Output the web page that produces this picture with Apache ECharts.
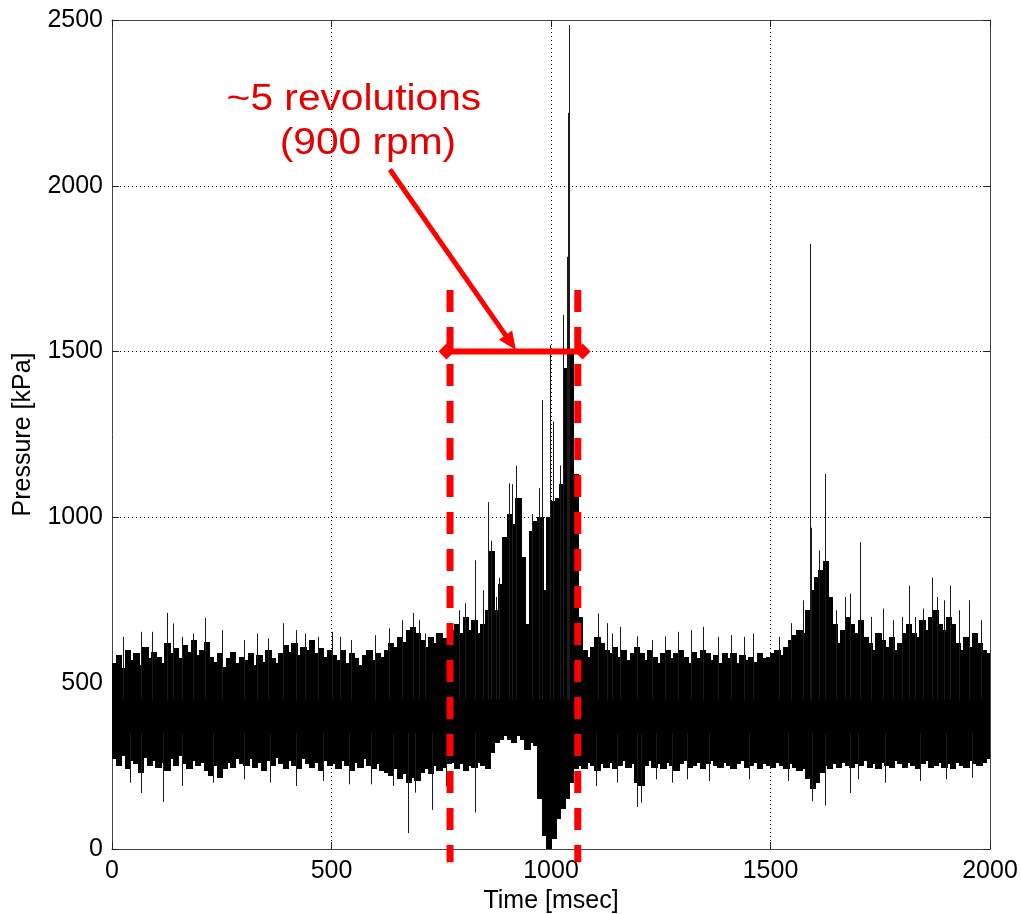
<!DOCTYPE html>
<html><head><meta charset="utf-8">
<script src="https://cdn.jsdelivr.net/npm/echarts@6/dist/echarts.min.js"></script>
<style>html,body{margin:0;padding:0;background:#fff}#c{width:1021px;height:914px}</style>
</head><body><div id="c"></div>
<script>
// ---- data ----
const binWidth = 10; // ms per envelope bin, bins start at 0,10,...,1990
const upper = [
560,585,545,600,570,590,555,610,575,595,
580,560,620,590,605,575,615,595,630,585,
600,625,580,565,590,550,575,595,560,580,
570,590,555,585,565,600,575,560,590,615,
595,620,585,610,600,630,590,605,580,600,
585,570,600,560,590,575,555,585,600,570,
590,580,600,620,610,640,625,660,670,650,
630,610,640,620,650,635,630,660,680,650,
700,660,690,650,680,720,900,720,800,940,
1010,980,1060,880,680,960,990,1000,780,1000,
1050,1060,1100,1450,1500,1130,700,600,580,610,
640,620,600,590,610,580,600,570,590,610,
590,570,600,580,560,590,600,575,590,600,
580,560,595,575,600,590,570,585,560,590,
575,590,560,585,570,580,565,590,575,580,
590,600,585,610,630,645,660,650,720,780,
820,840,870,760,680,620,660,700,680,650,
690,640,620,600,650,630,610,640,600,620,
650,680,650,640,690,660,700,720,680,660,
700,680,620,600,640,610,650,620,600,590
];
const lower = [
270,250,280,240,265,255,230,275,250,265,
245,260,235,270,250,280,255,240,265,250,
260,235,220,250,215,240,260,245,270,255,
250,270,245,260,235,265,250,275,255,240,
265,250,240,270,255,245,260,235,265,250,
255,240,265,250,235,260,245,270,250,240,
255,235,230,220,240,210,225,200,215,205,
230,240,225,250,235,245,255,260,240,255,
235,250,245,260,250,240,290,320,330,340,
330,320,340,330,300,320,310,150,40,0,
30,90,120,150,200,240,250,240,260,250,
235,255,245,260,240,250,265,245,255,200,
190,250,265,245,255,240,260,250,235,255,
265,245,250,260,240,255,265,250,245,260,
250,240,255,265,245,250,260,240,255,250,
245,260,250,240,255,245,235,240,210,180,
200,230,250,240,255,245,260,250,245,255,
250,265,245,255,240,260,250,245,265,255,
245,260,250,240,255,265,245,250,260,245,
255,240,260,250,245,265,255,250,260,270
];
const spikesUp = [
[25,640],[67,655],[90,655],[125,712],[140,680],[160,640],[185,650],[212,697],[250,660],[300,630],
[330,650],[355,635],[390,681],[420,660],[440,650],[470,640],[500,655],[520,640],[545,630],[600,645],
[630,665],[660,690],[686,712],[700,690],[712,650],[790,720],[805,741],[826,871],[846,780],[857,1046],
[864,930],[875,760],[882,818],[905,1103],[912,1100],[920,1156],[956,1010],[973,1088],[979,1354],[998,1520],
[1005,1289],[1020,1157],[1027,1611],[1036,1786],[1038,1912],[1039,2220],[1040,2220],[1041,2485],
[1108,710],[1127,681],[1140,650],[1157,670],[1195,641],[1230,630],[1260,641],[1290,655],[1320,660],
[1347,670],[1380,640],[1410,645],[1440,640],[1460,650],[1520,640],[1547,681],[1573,750],[1591,1825],
[1593,969],[1611,900],[1624,1131],[1650,720],[1670,760],[1680,770],[1705,925],[1730,700],[1757,725],
[1780,690],[1800,700],[1815,794],[1830,700],[1848,725],[1868,819],[1880,760],[1895,750],[1908,794],
[1930,720],[1953,750],[1980,690]
];
const spikesDown = [
[40,200],[67,169],[117,142],[160,190],[230,200],[300,210],[360,200],[420,190],[480,205],[540,195],
[590,195],[640,190],[674,48],[690,170],[730,118],[760,190],[827,110],[1103,190],[1150,200],[1197,127],
[1206,140],[1240,210],[1275,200],[1310,210],[1360,205],[1450,210],[1540,205],[1595,144],[1624,131],
[1680,169],[1700,210],[1760,200],[1840,205],[1900,210],[1960,215]
];
// annotations (data coordinates: [time ms, pressure kPa])
const dashedTimes = [770, 1061];
const dashedRange = [1686, -40];
const spanArrow = {from: 762, to: 1072, level: 1500};
const pointer = [[633, 2049], [920, 1505]];
const noteLines = [
  {text: '~5 revolutions', at: [551, 2259]},
  {text: '(900 rpm)', at: [583, 2126]}
];

// ---- chart ----
const FONT = '"Liberation Sans", Arial, Helvetica, sans-serif';
const chart = echarts.init(document.getElementById('c'), null, {renderer: 'canvas'});
const blocks = upper.map((u, i) => [i * binWidth, lower[i], u]);
const spikeBaseUp = 450, spikeBaseDown = 350;

const axisCommon = {
  axisLine: {show: true, onZero: false, lineStyle: {color: '#444', width: 1}},
  axisTick: {show: true, inside: true, length: 7, lineStyle: {color: '#222', width: 1}},
};
const labelStyle = {color: '#000', fontSize: 25, fontFamily: FONT, formatter: function (v) { return String(v); }};

const option = {
  animation: false,
  backgroundColor: '#fff',
  grid: {left: 112, right: 31, top: 20, bottom: 65, containLabel: false, outerBoundsMode: 'none'},
  xAxis: [
    Object.assign({
      type: 'value', min: 0, max: 2000, interval: 500, position: 'bottom',
      axisLabel: Object.assign({margin: 10}, labelStyle),
      splitLine: {show: true, lineStyle: {color: '#000', type: [1, 3], width: 1}},
      name: 'Time [msec]', nameLocation: 'middle', nameGap: 36,
      nameTextStyle: {color: '#000', fontSize: 25, fontFamily: FONT}
    }, axisCommon),
    Object.assign({
      type: 'value', min: 0, max: 2000, interval: 500, position: 'top',
      axisLabel: {show: false}, splitLine: {show: false}
    }, axisCommon)
  ],
  yAxis: [
    Object.assign({
      type: 'value', min: 0, max: 2500, interval: 500, position: 'left',
      axisLabel: Object.assign({margin: 9}, labelStyle),
      splitLine: {show: true, lineStyle: {color: '#000', type: [1, 3], width: 1}},
      name: 'Pressure [kPa]', nameLocation: 'middle', nameGap: 76,
      nameTextStyle: {color: '#000', fontSize: 25, fontFamily: FONT}
    }, axisCommon),
    Object.assign({
      type: 'value', min: 0, max: 2500, interval: 500, position: 'right',
      axisLabel: {show: false}, splitLine: {show: false}
    }, axisCommon)
  ],
  series: [
    {
      type: 'custom', name: 'envelope', clip: true, z: 2,
      data: blocks,
      encode: {x: 0, y: [1, 2]},
      renderItem: function (params, api) {
        const t = api.value(0), lo = api.value(1), hi = api.value(2);
        const a = api.coord([t, hi]);
        const b = api.coord([t + binWidth, lo]);
        const x0 = Math.floor(a[0]), x1 = Math.ceil(b[0]);
        return {type: 'rect', shape: {x: x0, y: Math.round(a[1]), width: x1 - x0 + 1, height: Math.round(b[1]) - Math.round(a[1])},
                style: {fill: '#000', stroke: null}};
      }
    },
    {
      type: 'custom', name: 'spikesUp', clip: true, z: 3,
      data: spikesUp, encode: {x: 0, y: 1},
      renderItem: function (params, api) {
        const t = api.value(0), v = api.value(1);
        const a = api.coord([t, spikeBaseUp]), b = api.coord([t, v]);
        return {type: 'line', shape: {x1: Math.round(a[0]) + 0.5, y1: a[1], x2: Math.round(a[0]) + 0.5, y2: b[1]},
                style: {stroke: '#1a1a1a', lineWidth: 1}};
      }
    },
    {
      type: 'custom', name: 'spikesDown', clip: true, z: 3,
      data: spikesDown, encode: {x: 0, y: 1},
      renderItem: function (params, api) {
        const t = api.value(0), v = api.value(1);
        const a = api.coord([t, spikeBaseDown]), b = api.coord([t, v]);
        return {type: 'line', shape: {x1: Math.round(a[0]) + 0.5, y1: a[1], x2: Math.round(a[0]) + 0.5, y2: b[1]},
                style: {stroke: '#1a1a1a', lineWidth: 1}};
      }
    },
    {
      type: 'custom', name: 'annotations', clip: false, z: 10,
      data: [[0, 0]], encode: {x: 0, y: 1}, silent: true,
      renderItem: function (params, api) {
        const RED = '#ff0000';
        const children = [];
        dashedTimes.forEach(function (t) {
          const a = api.coord([t, dashedRange[0]]), b = api.coord([t, dashedRange[1]]);
          children.push({type: 'line', shape: {x1: a[0], y1: a[1], x2: b[0], y2: b[1]},
            style: {stroke: RED, lineWidth: 7, lineDash: [22, 15]}});
        });
        const L = api.coord([spanArrow.from, spanArrow.level]);
        const R = api.coord([spanArrow.to, spanArrow.level]);
        children.push({type: 'line', shape: {x1: L[0], y1: L[1], x2: R[0], y2: R[1]},
          style: {stroke: RED, lineWidth: 6}});
        [L, R].forEach(function (p) {
          children.push({type: 'polygon', shape: {points: [[p[0] - 8, p[1]], [p[0], p[1] - 8], [p[0] + 8, p[1]], [p[0], p[1] + 8]]},
            style: {fill: RED}});
        });
        const P0 = api.coord(pointer[0]), P1 = api.coord(pointer[1]);
        const dx = P1[0] - P0[0], dy = P1[1] - P0[1];
        const len = Math.sqrt(dx * dx + dy * dy), ux = dx / len, uy = dy / len;
        const hl = 18, hw = 8;
        const bx = P1[0] - ux * hl, by = P1[1] - uy * hl;
        children.push({type: 'line', shape: {x1: P0[0], y1: P0[1], x2: bx + ux * 2, y2: by + uy * 2},
          style: {stroke: RED, lineWidth: 5}});
        children.push({type: 'polygon', shape: {points: [[P1[0], P1[1]], [bx - uy * hw, by + ux * hw], [bx + uy * hw, by - ux * hw]]},
          style: {fill: RED}});
        noteLines.forEach(function (n) {
          const p = api.coord(n.at);
          children.push({type: 'text', x: p[0], y: p[1], scaleX: 1.1,
            style: {text: n.text, x: 0, y: 0, fill: '#e60000', fontSize: 37, fontFamily: FONT,
                    align: 'center', verticalAlign: 'middle'}});
        });
        return {type: 'group', children: children};
      }
    }
  ]
};
chart.setOption(option);
</script>
</body></html>
